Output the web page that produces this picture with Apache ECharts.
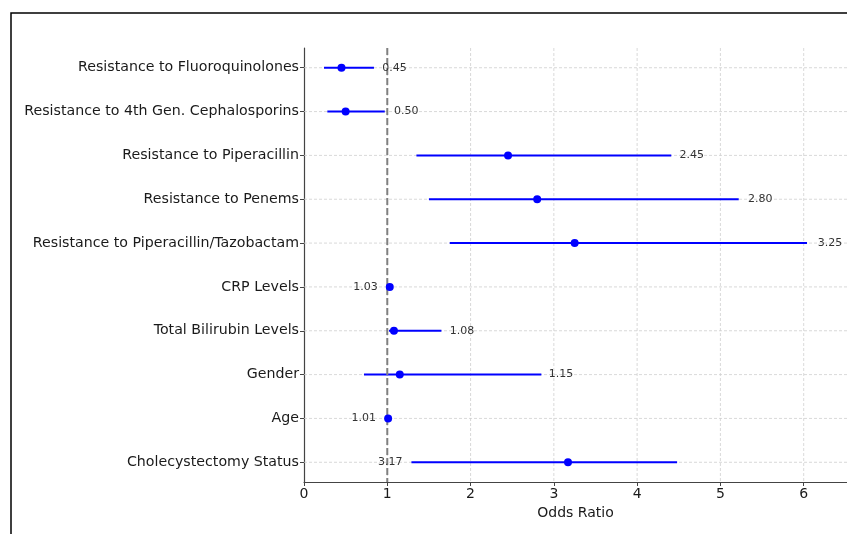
<!DOCTYPE html>
<html>
<head>
<meta charset="utf-8">
<script src="https://cdn.jsdelivr.net/npm/echarts@6/dist/echarts.min.js"></script>
<style>
  html, body { margin: 0; padding: 0; background: #fff; }
  #chart { width: 847px; height: 534px; }
</style>
</head>
<body>
<div id="chart"></div>
<script>
// odds ratios with 95% CI
const factors = [
  'Resistance to Fluoroquinolones',
  'Resistance to 4th Gen. Cephalosporins',
  'Resistance to Piperacillin',
  'Resistance to Penems',
  'Resistance to Piperacillin/Tazobactam',
  'CRP Levels',
  'Total Bilirubin Levels',
  'Gender',
  'Age',
  'Cholecystectomy Status'
]
const oddsRatios = [0.45, 0.50, 2.45, 2.80, 3.25, 1.03, 1.08, 1.15, 1.01, 3.17]
const ciLower = [0.24, 0.28, 1.35, 1.50, 1.75, 1.02, 1.02, 0.72, 1.00, 1.29]
const ciUpper = [0.84, 0.97, 4.41, 5.22, 6.04, 1.05, 1.65, 2.85, 1.02, 4.48]
// where each value label starts, in odds-ratio units
const labelX = [0.94, 1.08, 4.51, 5.33, 6.17, 0.59, 1.75, 2.94, 0.57, 0.89]
const xTicks = [0, 1, 2, 3, 4, 5, 6]
const xMin = 0
const xMax = 6.52
const refValue = 1

const font = 'DejaVu Sans'
const gridColor = '#cfcfcf'

// rows are placed on a numeric axis (0 = top row) with matplotlib-like margins
const rows = factors.map((f, i) => i)
const barData = rows.map(i => [ciLower[i], ciUpper[i], i])
const pointData = rows.map(i => [oddsRatios[i], i])
const labelData = rows.map(i => [labelX[i], i, oddsRatios[i].toFixed(2)])

const chart = echarts.init(document.getElementById('chart'))

chart.setOption({
  animation: false,
  grid: { left: 304, right: 0, top: 48, bottom: 52 },
  xAxis: {
    type: 'value',
    min: xMin,
    max: xMax,
    name: 'Odds Ratio',
    nameLocation: 'middle',
    nameGap: 23,
    nameTextStyle: { fontFamily: font, fontSize: 14, color: '#1a1a1a' },
    axisLine: { show: true, onZero: false, lineStyle: { color: '#444', width: 1.2 } },
    axisTick: { show: true, length: 4, lineStyle: { color: '#444' }, customValues: xTicks },
    axisLabel: {
      fontFamily: font, fontSize: 14, color: '#1a1a1a', margin: 5,
      customValues: xTicks
    },
    splitLine: { show: false }
  },
  yAxis: {
    type: 'value',
    inverse: true,
    min: -0.45,
    max: rows.length - 1 + 0.45,
    axisLine: { show: true, onZero: false, lineStyle: { color: '#444', width: 1.2 } },
    axisTick: { show: true, length: 4, lineStyle: { color: '#444' }, customValues: rows },
    axisLabel: {
      fontFamily: font, fontSize: 14.2, color: '#1a1a1a', margin: 5,
      customValues: rows,
      formatter: v => factors[Math.round(v)]
    },
    splitLine: { show: false }
  },
  series: [
    {
      // dashed grid: a horizontal line per factor, a vertical line per x tick
      type: 'custom',
      data: rows.map(i => [i]),
      silent: true,
      renderItem: (params, api) => {
        const cs = params.coordSys
        const y = api.coord([0, api.value(0)])[1]
        const children = [{
          type: 'line',
          shape: { x1: cs.x, y1: y, x2: cs.x + cs.width, y2: y },
          style: { stroke: gridColor, lineWidth: 0.8, lineDash: [3, 2] }
        }]
        const tx = xTicks[params.dataIndex]
        if (tx !== undefined && tx > 0) {
          const x = api.coord([tx, 0])[0]
          children.push({
            type: 'line',
            shape: { x1: x, y1: cs.y, x2: x, y2: cs.y + cs.height },
            style: { stroke: gridColor, lineWidth: 0.8, lineDash: [3, 2] }
          })
        }
        return { type: 'group', children }
      },
      z: 1
    },
    {
      type: 'custom',
      data: barData,
      encode: { x: [0, 1], y: 2 },
      renderItem: (params, api) => {
        const a = api.coord([api.value(0), api.value(2)])
        const b = api.coord([api.value(1), api.value(2)])
        return {
          type: 'line',
          shape: { x1: a[0], y1: a[1], x2: b[0], y2: b[1] },
          style: { stroke: '#0000ff', lineWidth: 2, opacity: 1 }
        }
      },
      z: 3
    },
    {
      // reference line at OR = 1
      type: 'custom',
      data: [[refValue]],
      silent: true,
      renderItem: (params, api) => {
        const cs = params.coordSys
        const x = api.coord([api.value(0), 0])[0]
        return {
          type: 'line',
          shape: { x1: x, y1: cs.y, x2: x, y2: cs.y + cs.height },
          style: { stroke: '#808080', lineWidth: 2, lineDash: [7, 3] }
        }
      },
      z: 4
    },
    {
      type: 'scatter',
      data: pointData,
      symbol: 'circle',
      symbolSize: 8,
      itemStyle: { color: '#0000ff', opacity: 1 },
      z: 5
    },
    {
      type: 'custom',
      data: labelData,
      encode: { x: 0, y: 1 },
      silent: true,
      renderItem: (params, api) => {
        const p = api.coord([api.value(0), api.value(1)])
        return {
          type: 'text',
          x: p[0],
          y: p[1],
          style: {
            text: labelData[params.dataIndex][2],
            fontFamily: font,
            fontSize: 11,
            fill: '#333',
            align: 'left',
            verticalAlign: 'middle'
          }
        }
      },
      z: 6
    }
  ],
  graphic: [
    {
      type: 'rect',
      shape: { x: 11, y: 13, width: 900, height: 600 },
      style: { fill: 'none', stroke: '#000', lineWidth: 1.5 },
      silent: true,
      z: 100
    }
  ]
})
</script>
</body>
</html>
